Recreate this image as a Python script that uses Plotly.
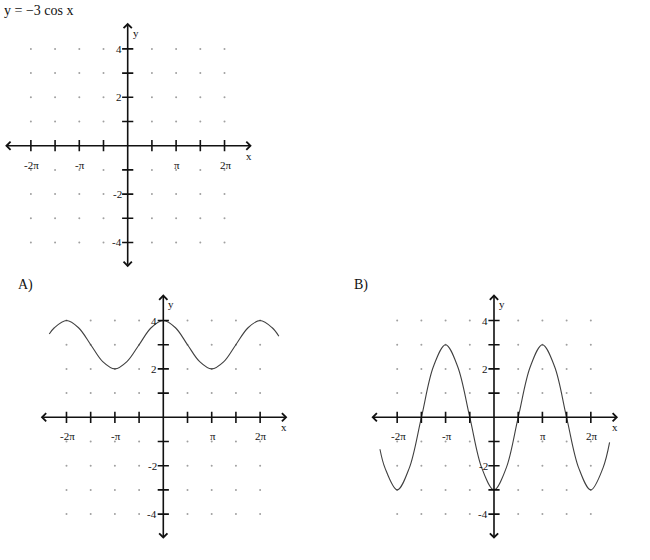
import plotly.graph_objects as go

PI = 3.14159265

# page size in pixels
W, H = 650, 560

# text
title_text = "y = \u22123 cos x"
panel_labels = ["A)", "B)"]

# axis ticks (every pi/2 on x, every 1 on y) and their labels
x_tick_vals = [-2 * PI, -1.5 * PI, -PI, -0.5 * PI, 0.5 * PI, PI, 1.5 * PI, 2 * PI]
x_label_vals = [-2 * PI, -PI, PI, 2 * PI]
x_label_text = ["-2\u03c0", "-\u03c0", "\u03c0", "2\u03c0"]
y_tick_vals = [-4, -3, -2, -1, 1, 2, 3, 4]
y_label_vals = [-4, -2, 2, 4]
y_label_text = ["-4", "-2", "2", "4"]

# points
curve_x = [-7.4, -7.07, -6.28, -5.5, -4.71, -3.93, -3.14, -2.36, -1.57, -0.79, 0,
           0.79, 1.57, 2.36, 3.14, 3.93, 4.71, 5.5, 6.28, 7.07, 7.5]
curve_a = [3.44, 3.7, 4, 3.7, 3, 2.3, 2, 2.3, 3, 3.7, 4,
           3.7, 3, 2.3, 2, 2.3, 3, 3.7, 4, 3.7, 3.35]
curve_b = [-1.32, -2.1, -3, -2.1, 0, 2.1, 3, 2.1, 0, -2.1, -3,
           -2.1, 0, 2.1, 3, 2.1, 0, -2.1, -3, -2.1, -1.04]

AXIS_X_END = 8.05
AXIS_Y_END = 5.08
X_RANGE = 8.2
Y_RANGE = 5.4
SX = 15.41   # px per x unit
SY = 24.2    # px per y unit

# origin of each panel in page pixels
panels = [
    dict(ox=127.7, oy=145.7, curve=None),
    dict(ox=163.3, oy=417.3, curve=curve_a),
    dict(ox=494.0, oy=417.3, curve=curve_b),
]

SERIF = "Liberation Serif, Times New Roman, serif"
INK = "#111111"
LABEL_FONT = dict(family=SERIF, size=11, color=INK)

fig = go.Figure()
annotations = []
layout_axes = {}

for i, p in enumerate(panels):
    n = "" if i == 0 else str(i + 1)
    xr, yr = "x" + n, "y" + n
    xd = [(p["ox"] - X_RANGE * SX) / W, (p["ox"] + X_RANGE * SX) / W]
    yd = [1 - (p["oy"] + Y_RANGE * SY) / H, 1 - (p["oy"] - Y_RANGE * SY) / H]
    layout_axes["xaxis" + n] = dict(domain=xd, range=[-X_RANGE, X_RANGE], visible=False,
                                    anchor=yr, fixedrange=True)
    layout_axes["yaxis" + n] = dict(domain=yd, range=[-Y_RANGE, Y_RANGE], visible=False,
                                    anchor=xr, fixedrange=True)

    # dotted grid
    gx, gy = [], []
    for xv in x_tick_vals:
        for yv in y_tick_vals:
            gx.append(xv)
            gy.append(yv)
    fig.add_trace(go.Scatter(x=gx, y=gy, mode="markers", xaxis=xr, yaxis=yr,
                             marker=dict(size=2, color="#a0a0a0"), hoverinfo="skip",
                             showlegend=False))

    # curve
    if p["curve"] is not None:
        fig.add_trace(go.Scatter(x=curve_x, y=p["curve"], mode="lines", xaxis=xr, yaxis=yr,
                                 line=dict(color="#404040", width=1.1, shape="spline"),
                                 showlegend=False))

    # tick marks crossing the axes
    fig.add_trace(go.Scatter(x=x_tick_vals, y=[0] * len(x_tick_vals), mode="markers",
                             xaxis=xr, yaxis=yr, hoverinfo="skip", showlegend=False,
                             marker=dict(symbol="line-ns", size=8,
                                         line=dict(color=INK, width=1.6))))
    fig.add_trace(go.Scatter(x=[0] * len(y_tick_vals), y=y_tick_vals, mode="markers",
                             xaxis=xr, yaxis=yr, hoverinfo="skip", showlegend=False,
                             marker=dict(symbol="line-ew", size=8,
                                         line=dict(color=INK, width=1.6))))

    # axes with open arrowheads at both ends
    for (x0, y0, x1, y1) in [(-AXIS_X_END, 0, AXIS_X_END, 0), (0, -AXIS_Y_END, 0, AXIS_Y_END)]:
        annotations.append(dict(x=x1, y=y1, ax=x0, ay=y0, xref=xr, yref=yr,
                                axref=xr, ayref=yr, text="", showarrow=True,
                                arrowhead=4, startarrowhead=4, arrowside="end+start",
                                arrowwidth=1.6, arrowsize=1, startarrowsize=1,
                                arrowcolor=INK))

    for xv, t in zip(x_label_vals, x_label_text):
        annotations.append(dict(x=xv, y=0, xref=xr, yref=yr, text=t, showarrow=False,
                                yshift=-19, xshift=1, font=LABEL_FONT))
    for yv, t in zip(y_label_vals, y_label_text):
        annotations.append(dict(x=0, y=yv, xref=xr, yref=yr, text=t, showarrow=False,
                                xanchor="right", xshift=-4, font=LABEL_FONT))
    annotations.append(dict(x=AXIS_X_END, y=0, xref=xr, yref=yr, text="x", showarrow=False,
                            xshift=-3, yshift=-10, font=LABEL_FONT))
    annotations.append(dict(x=0, y=AXIS_Y_END, xref=xr, yref=yr, text="y", showarrow=False,
                            xshift=8, yshift=-10, font=LABEL_FONT))

annotations.append(dict(x=2 / W, y=1 - 1 / H, xref="paper", yref="paper", text=title_text,
                        showarrow=False, xanchor="left", yanchor="top",
                        font=dict(family=SERIF, size=14, color=INK)))
for t, px in zip(panel_labels, [16, 352]):
    annotations.append(dict(x=px / W, y=1 - 275 / H, xref="paper", yref="paper", text=t,
                            showarrow=False, xanchor="left", yanchor="top",
                            font=dict(family=SERIF, size=14, color=INK)))

fig.update_layout(width=W, height=H, margin=dict(l=0, r=0, t=0, b=0),
                  paper_bgcolor="white", plot_bgcolor="white",
                  annotations=annotations, **layout_axes)

fig.write_html("out.html", config={"displayModeBar": False},
               post_script="document.body.style.margin='0px';document.body.style.overflow='hidden';")
